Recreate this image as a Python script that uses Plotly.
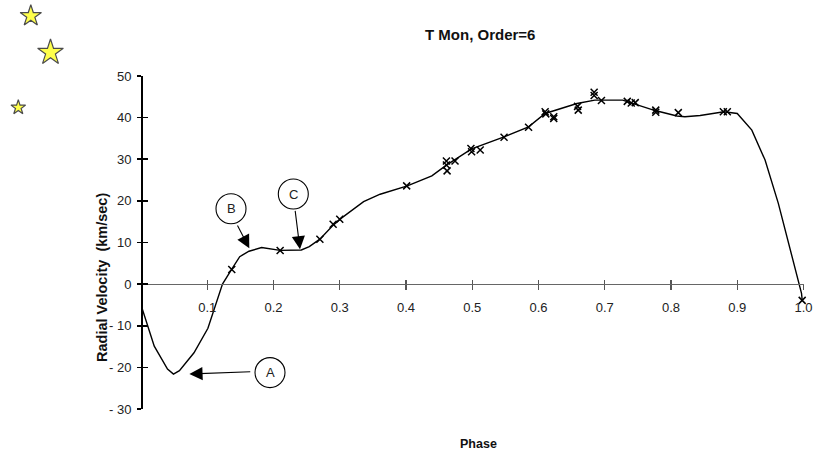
import plotly.graph_objects as go

# ---------------- data ----------------
curve_phase = [0.0, 0.020, 0.040, 0.049, 0.058, 0.080, 0.101, 0.123, 0.137, 0.149,
               0.163, 0.182, 0.210, 0.242, 0.254, 0.270, 0.291, 0.302, 0.336, 0.361,
               0.402, 0.439, 0.461, 0.499, 0.547, 0.585, 0.610, 0.658, 0.685, 0.727,
               0.776, 0.809, 0.821, 0.844, 0.880, 0.900, 0.922, 0.942, 0.962, 0.997, 0.998]
curve_rv = [-5.0, -14.9, -20.4, -21.6, -20.8, -16.5, -10.6, 0.0, 3.6, 6.6,
            7.9, 8.8, 8.1, 8.2, 9.0, 10.8, 14.3, 15.8, 19.8, 21.6,
            23.6, 26.0, 28.6, 32.5, 35.3, 37.8, 41.0, 43.4, 44.2, 44.2,
            41.7, 40.4, 40.2, 40.5, 41.4, 41.0, 37.0, 29.8, 19.4, -2.2, -3.8]

obs_phase = [0.137, 0.210, 0.270, 0.290, 0.300, 0.401, 0.461, 0.461, 0.462, 0.474,
             0.498, 0.499, 0.512, 0.548, 0.585, 0.610, 0.611, 0.623, 0.623, 0.659,
             0.660, 0.684, 0.684, 0.695, 0.734, 0.740, 0.746, 0.777, 0.777, 0.811,
             0.879, 0.885, 0.998]
obs_rv = [3.5, 8.1, 10.8, 14.4, 15.6, 23.6, 29.6, 28.6, 27.2, 29.6,
          32.6, 31.8, 32.2, 35.3, 37.7, 41.4, 40.9, 40.2, 39.8, 42.7,
          41.8, 46.1, 45.3, 44.1, 43.9, 43.5, 43.6, 41.8, 41.3, 41.2,
          41.4, 41.4, -3.9]

x_tick_vals = [0.1, 0.2, 0.3, 0.4, 0.5, 0.6, 0.7, 0.8, 0.9, 1.0]
x_tick_text = ["0.1", "0.2", "0.3", "0.4", "0.5", "0.6", "0.7", "0.8", "0.9", "1.0"]
y_tick_vals = [-30, -20, -10, 0, 10, 20, 30, 40, 50]
y_tick_text = ["- 30", "- 20", "- 10", "0", "10", "20", "30", "40", "50"]

title_text = "T Mon, Order=6"
x_title = "Phase"
y_title = "Radial Velocity  (km/sec)"

feature_labels = ["A", "B", "C"]
feature_phase = [0.073, 0.1635, 0.240]
feature_rv = [-21.6, 8.6, 8.36]

# ---------------- layout geometry (pixels) ----------------
W, H = 819, 453
PX_LEFT, PX_RIGHT = 141, 803.5      # phase 0 .. 1.0
PX_TOP, PX_BOTTOM = 76, 409         # rv 50 .. -30
PX_ZERO = 284.1                     # rv 0

FONT = "Arial, Liberation Sans, sans-serif"

fig = go.Figure()

fig.add_trace(go.Scatter(x=curve_phase, y=curve_rv, mode="lines",
                         line=dict(color="black", width=1.4),
                         xaxis="x", yaxis="y", hoverinfo="skip", showlegend=False,
                         cliponaxis=False))
fig.add_trace(go.Scatter(x=obs_phase, y=obs_rv, mode="markers",
                         marker=dict(symbol="x-thin", size=7, color="black",
                                     line=dict(color="black", width=1.5)),
                         xaxis="x", yaxis="y", hoverinfo="skip", showlegend=False,
                         cliponaxis=False))
fig.add_trace(go.Scatter(x=[None], y=[None], xaxis="x3", yaxis="y", showlegend=False))
fig.add_trace(go.Scatter(x=[None], y=[None], xaxis="x", yaxis="y3", showlegend=False))

# decorative stars
star_x = [30.8, 50.5, 18.3]
star_y = [16, 52.5, 107.5]
star_size = [16, 19.3, 11]
fig.add_trace(go.Scatter(x=star_x, y=star_y, mode="markers",
                         marker=dict(symbol="star", size=star_size, color="#FFFF00",
                                     line=dict(color="black", width=1.2)),
                         xaxis="x2", yaxis="y2", hoverinfo="skip", showlegend=False,
                         cliponaxis=False))

xdom = [PX_LEFT / W, PX_RIGHT / W]
ydom = [1 - PX_BOTTOM / H, 1 - PX_TOP / H]
xpos = 1 - PX_ZERO / H
ypos = PX_LEFT / W

tick_font = dict(size=13, color="#222", family=FONT)

fig.update_layout(
    template="none",
    width=W, height=H, autosize=False,
    margin=dict(l=0, r=0, t=0, b=0, pad=0, autoexpand=False),
    paper_bgcolor="white", plot_bgcolor="rgba(0,0,0,0)",
    font=dict(family=FONT, size=13, color="#222"),
    showlegend=False,
    xaxis=dict(domain=xdom, range=[0, 1], anchor="free", position=xpos, automargin=False,
               tickmode="array", tickvals=x_tick_vals, ticktext=x_tick_text,
               ticks="outside", ticklen=5, tickwidth=1.3, tickcolor="#555",
               showline=True, linecolor="#666", linewidth=1.3,
               showgrid=False, zeroline=False, ticklabelstandoff=6,
               tickfont=tick_font),
    xaxis3=dict(domain=xdom, range=[0, 1], overlaying="x", anchor="free", position=xpos,
                automargin=False, tickmode="array", tickvals=x_tick_vals,
                ticks="inside", ticklen=4, tickwidth=1.3, tickcolor="#555",
                showticklabels=False, showline=False, showgrid=False, zeroline=False),
    yaxis=dict(domain=ydom, range=[-30, 50], anchor="free", position=ypos, automargin=False,
               tickmode="array", tickvals=y_tick_vals, ticktext=y_tick_text,
               ticks="outside", ticklen=4, tickwidth=1.6, tickcolor="black",
               showline=True, linecolor="black", linewidth=1.5,
               showgrid=False, zeroline=False, ticklabelstandoff=3,
               tickfont=tick_font),
    yaxis3=dict(domain=ydom, range=[-30, 50], overlaying="y", anchor="free", position=ypos,
                automargin=False, tickmode="array", tickvals=y_tick_vals,
                ticks="inside", ticklen=6, tickwidth=1.6, tickcolor="black",
                showticklabels=False, showline=False, showgrid=False, zeroline=False),
    xaxis2=dict(domain=[0, 1], range=[0, W], visible=False, fixedrange=True,
                anchor="y2", automargin=False),
    yaxis2=dict(domain=[0, 1], range=[H, 0], visible=False, fixedrange=True,
                anchor="x2", automargin=False),
)

fig.add_annotation(x=480, y=34, xref="x2", yref="y2", text="<b>%s</b>" % title_text,
                   showarrow=False, font=dict(size=15, color="#111", family=FONT))
fig.add_annotation(x=478, y=443.5, xref="x2", yref="y2", text="<b>%s</b>" % x_title,
                   showarrow=False, font=dict(size=12.5, color="#111", family=FONT))
fig.add_annotation(x=102, y=278, xref="x2", yref="y2", text="<b>%s</b>" % y_title,
                   textangle=-90, showarrow=False,
                   font=dict(size=14.5, color="#111", family=FONT))

circle_cx = [270, 231, 293.3]
circle_cy = [372.6, 208.8, 194]
circle_r = 15
arrow_tail_dx = [62.4, -12.6, -5.0]
arrow_tail_dy = [-2.3, -24.3, -40.0]
for lab, px, rv, cx, cy, adx, ady in zip(feature_labels, feature_phase, feature_rv,
                                          circle_cx, circle_cy, arrow_tail_dx, arrow_tail_dy):
    fig.add_shape(type="circle", xref="x2", yref="y2",
                  x0=cx - circle_r, x1=cx + circle_r, y0=cy - circle_r, y1=cy + circle_r,
                  line=dict(color="black", width=1.1), fillcolor="white")
    fig.add_annotation(x=cx, y=cy, xref="x2", yref="y2", text=lab, showarrow=False,
                       font=dict(size=13, color="#222", family=FONT))
    fig.add_annotation(x=px, y=rv, xref="x", yref="y", text="", showarrow=True,
                       ax=adx, ay=ady, arrowhead=2, arrowsize=2.4, arrowwidth=1.1,
                       arrowcolor="black", standoff=0)

fig.write_html("out.html",
               config={"displayModeBar": False, "staticPlot": True},
               post_script="document.body.style.margin='0px';document.body.style.padding='0px';")
